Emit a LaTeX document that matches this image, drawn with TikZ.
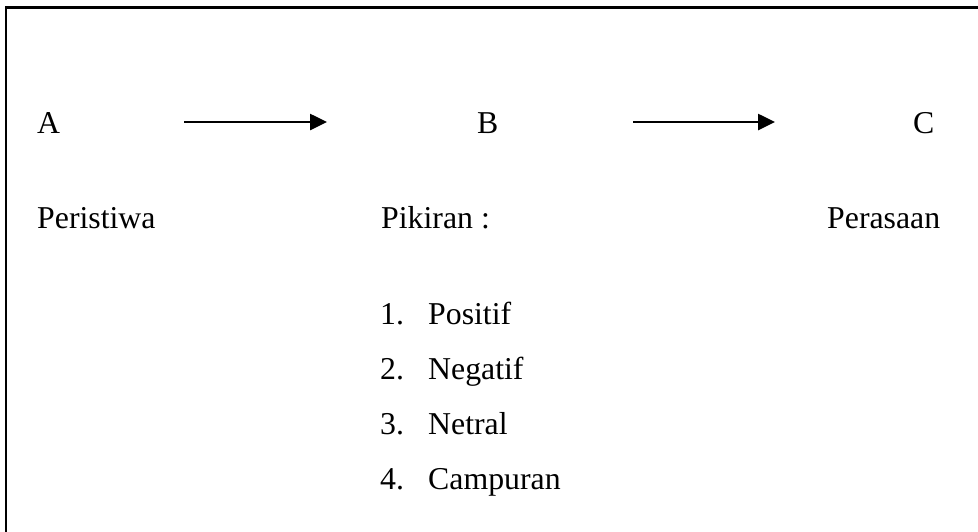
\documentclass[tikz,border=0pt]{standalone}
\usepackage{fontspec}
\setmainfont{Liberation Serif}
\usetikzlibrary{arrows.meta}
\begin{document}
\begin{tikzpicture}[x=1pt,y=-1pt,
  txt/.style={inner sep=0pt,anchor=base west,font=\fontsize{31.8}{36}\selectfont},
  arr/.style={line width=2.6pt,-{Triangle[length=17pt,width=16pt]}}]
\useasboundingbox (0,0) rectangle (978,531);
\draw[line width=2.8pt] (6,540) -- (6,7.5) -- (990,7.5);
\node[txt] (A) at (37,133) {A};
\node[txt] (B) at (477,133) {B};
\node[txt] (C) at (913,133) {C};
\coordinate (a1s) at (184,122);
\coordinate (a1e) at (327,122);
\coordinate (a2s) at (633,122);
\coordinate (a2e) at (775,122);
\draw[arr] (a1s) -- (a1e);
\draw[arr] (a2s) -- (a2e);
\node[txt] (per) at (37,228) {Peristiwa};
\node[txt] (pik) at (381,228) {Pikiran :};
\node[txt] (pers) at (827,228) {Perasaan};
\node[txt] (n1) at (380,324) {1.};
\node[txt] (t1) at (428,324) {Positif};
\node[txt] (n2) at (380,379) {2.};
\node[txt] (t2) at (428,379) {Negatif};
\node[txt] (n3) at (380,434) {3.};
\node[txt] (t3) at (428,434) {Netral};
\node[txt] (n4) at (380,489) {4.};
\node[txt] (t4) at (428,489) {Campuran};
\end{tikzpicture}
\end{document}
